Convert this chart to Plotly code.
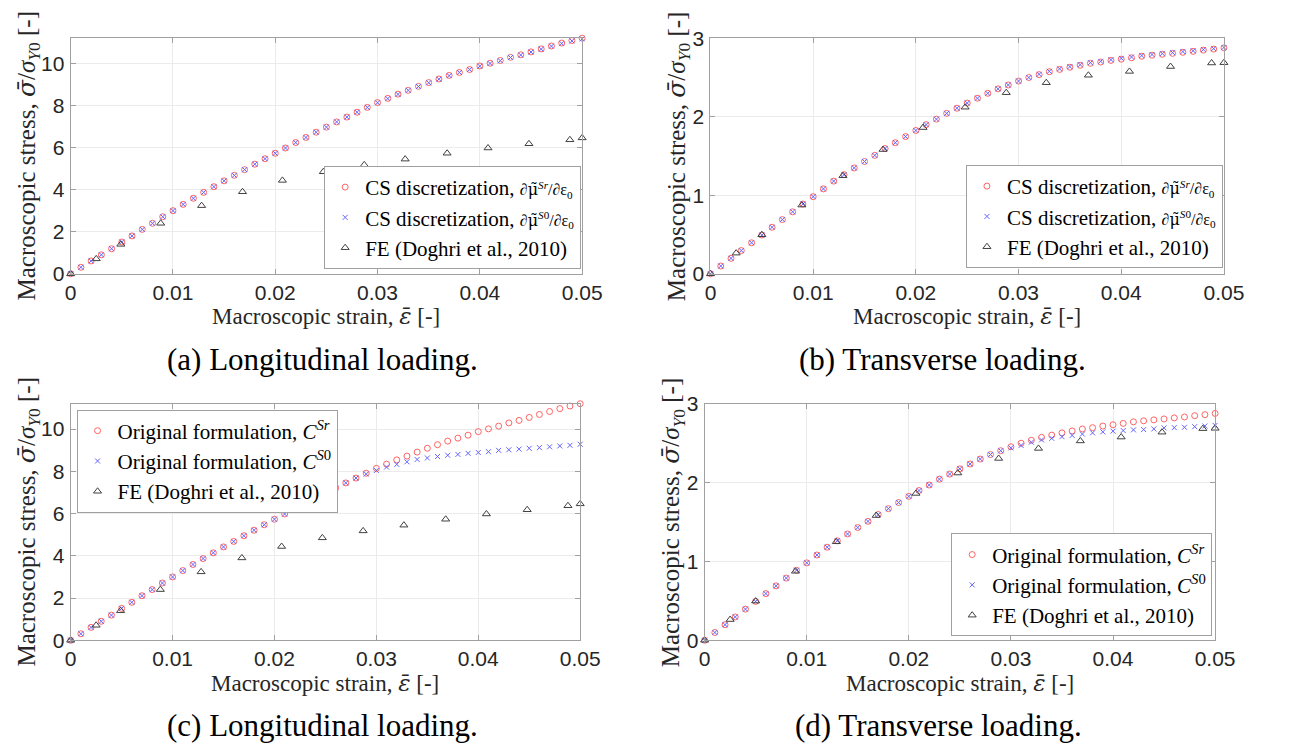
import plotly.graph_objects as go

W, H = 1289, 756

# ---------------- data ----------------
strain = [0.000, 0.001, 0.002, 0.003, 0.004, 0.005, 0.006, 0.007, 0.008, 0.009,
          0.010, 0.011, 0.012, 0.013, 0.014, 0.015, 0.016, 0.017, 0.018, 0.019,
          0.020, 0.021, 0.022, 0.023, 0.024, 0.025, 0.026, 0.027, 0.028, 0.029,
          0.030, 0.031, 0.032, 0.033, 0.034, 0.035, 0.036, 0.037, 0.038, 0.039,
          0.040, 0.041, 0.042, 0.043, 0.044, 0.045, 0.046, 0.047, 0.048, 0.049, 0.050]

long_Sr = [0, 0.31, 0.61, 0.90, 1.19, 1.51, 1.80, 2.11, 2.40, 2.71,
           3.00, 3.30, 3.59, 3.87, 4.14, 4.42, 4.68, 4.95, 5.21, 5.47,
           5.73, 5.98, 6.24, 6.48, 6.73, 6.97, 7.22, 7.45, 7.68, 7.91,
           8.14, 8.34, 8.54, 8.72, 8.91, 9.09, 9.26, 9.43, 9.57, 9.71,
           9.88, 10.01, 10.14, 10.29, 10.41, 10.55, 10.69, 10.83, 10.97, 11.09, 11.20]

long_cs_S0 = [0, 0.31, 0.61, 0.90, 1.19, 1.51, 1.80, 2.11, 2.40, 2.71,
              3.00, 3.30, 3.59, 3.87, 4.14, 4.42, 4.68, 4.95, 5.21, 5.47,
              5.73, 5.98, 6.24, 6.48, 6.73, 6.97, 7.22, 7.45, 7.68, 7.91,
              8.13, 8.33, 8.53, 8.72, 8.90, 9.08, 9.25, 9.42, 9.57, 9.71,
              9.87, 10.00, 10.13, 10.28, 10.40, 10.54, 10.68, 10.82, 10.95, 11.07, 11.17]

long_orig_S0 = [0, 0.31, 0.61, 0.90, 1.19, 1.51, 1.80, 2.11, 2.40, 2.71,
                3.00, 3.30, 3.59, 3.87, 4.14, 4.42, 4.68, 4.95, 5.21, 5.47,
                5.73, 5.98, 6.24, 6.48, 6.73, 6.97, 7.22, 7.45, 7.68, 7.87,
                8.04, 8.20, 8.33, 8.45, 8.56, 8.63, 8.70, 8.76, 8.80, 8.85,
                8.89, 8.93, 8.99, 9.02, 9.05, 9.09, 9.12, 9.16, 9.20, 9.23, 9.28]

fe_long_x = [0, 0.0025, 0.0049, 0.0088, 0.0128, 0.0168, 0.0207, 0.0247,
             0.0287, 0.0327, 0.0368, 0.0408, 0.0448, 0.0488, 0.05]
fe_long_y = [0, 0.71, 1.40, 2.40, 3.24, 3.90, 4.44, 4.85,
             5.18, 5.45, 5.73, 5.98, 6.18, 6.37, 6.46]

trans_Sr = [0, 0.099, 0.197, 0.296, 0.395, 0.493, 0.592, 0.690, 0.789, 0.888,
            0.982, 1.081, 1.180, 1.262, 1.348, 1.430, 1.508, 1.595, 1.669, 1.747,
            1.825, 1.899, 1.969, 2.043, 2.108, 2.174, 2.236, 2.298, 2.355, 2.404,
            2.454, 2.499, 2.536, 2.573, 2.602, 2.630, 2.655, 2.680, 2.696, 2.717,
            2.733, 2.750, 2.770, 2.783, 2.795, 2.807, 2.820, 2.832, 2.848, 2.861, 2.877]

trans_cs_S0 = [0, 0.099, 0.197, 0.296, 0.395, 0.493, 0.592, 0.690, 0.789, 0.888,
               0.982, 1.081, 1.180, 1.262, 1.348, 1.430, 1.508, 1.595, 1.669, 1.747,
               1.825, 1.899, 1.969, 2.043, 2.108, 2.174, 2.236, 2.298, 2.355, 2.404,
               2.454, 2.499, 2.540, 2.578, 2.610, 2.638, 2.663, 2.688, 2.705, 2.726,
               2.743, 2.760, 2.779, 2.792, 2.804, 2.816, 2.829, 2.840, 2.855, 2.867, 2.882]

trans_orig_S0 = [0, 0.099, 0.197, 0.296, 0.395, 0.493, 0.592, 0.690, 0.789, 0.888,
                 0.982, 1.081, 1.180, 1.262, 1.348, 1.430, 1.508, 1.595, 1.669, 1.747,
                 1.825, 1.899, 1.969, 2.043, 2.108, 2.174, 2.236, 2.298, 2.355, 2.404,
                 2.440, 2.471, 2.512, 2.541, 2.561, 2.582, 2.598, 2.615, 2.631, 2.643,
                 2.652, 2.660, 2.668, 2.672, 2.680, 2.693, 2.697, 2.701, 2.709, 2.717, 2.725]

fe_trans_x = [0, 0.0025, 0.0050, 0.0089, 0.0129, 0.0168, 0.0207, 0.0248,
              0.0288, 0.0327, 0.0368, 0.0408, 0.0448, 0.0488, 0.05]
fe_trans_y = [0, 0.263, 0.497, 0.875, 1.249, 1.582, 1.862, 2.121,
              2.306, 2.433, 2.528, 2.577, 2.639, 2.684, 2.688]

x_ticks = [0, 0.01, 0.02, 0.03, 0.04, 0.05]
x_ticklabels = ["0", "0.01", "0.02", "0.03", "0.04", "0.05"]
y_ticks_long = [0, 2, 4, 6, 8, 10]
y_ticks_trans = [0, 1, 2, 3]

DJ = "font-family:'DejaVu Serif'"
frac_sr = ("<span style=\"font-size:16px\">∂<span style=\"" + DJ + "\">μ̃</span>"
           "<sup><i>Sr</i></sup>/∂ε<sub>0</sub></span>")
frac_s0 = ("<span style=\"font-size:16px\">∂<span style=\"" + DJ + "\">μ̃</span>"
           "<sup><i>S</i>0</sup>/∂ε<sub>0</sub></span>")
cs_names = ["CS discretization, " + frac_sr,
            "CS discretization, " + frac_s0,
            "FE (Doghri et al., 2010)"]
orig_names = ["Original formulation, <i>C</i><sup><i>Sr</i></sup>",
              "Original formulation, <i>C</i><sup><i>S</i>0</sup>",
              "FE (Doghri et al., 2010)"]
captions = ["(a) Longitudinal loading.", "(b) Transverse loading.",
            "(c) Longitudinal loading.", "(d) Transverse loading."]
xtitle = "Macroscopic strain, <span style=\"" + DJ + "\"><i>ε̄</i></span> [-]"
ytitle = ("Macroscopic stress, <span style=\"" + DJ + "\"><i>σ̄</i></span>/<i>σ</i>"
          "<sub><i>Y</i>0</sub> [-]")

# ---------------- layout geometry (pixels) ----------------
# (left, right, top, bottom)
boxes = [(66, 588, 27, 270), (719, 1243, 27, 270),
         (66, 586, 404, 648), (713, 1234, 404, 648)]
ytitle_off = [44, 33, 44, 33]
caption_cx = [323, 956, 323, 952]

SERIF = "Liberation Serif"
SANS = "Liberation Sans"

red = "#ff6464"
blue = "#6464ff"
gray = "#404040"

fig = go.Figure()

panels = [
    (strain, long_Sr, strain, long_cs_S0, fe_long_x, fe_long_y, cs_names),
    (strain, trans_Sr, strain, trans_cs_S0, fe_trans_x, fe_trans_y, cs_names),
    (strain, long_Sr, strain, long_orig_S0, fe_long_x, fe_long_y, orig_names),
    (strain, trans_Sr, strain, trans_orig_S0, fe_trans_x, fe_trans_y, orig_names),
]

for i, (xs, ys, x0, y0, xf, yf, names) in enumerate(panels):
    n = "" if i == 0 else str(i + 1)
    leg = "legend" if i == 0 else "legend" + str(i + 1)
    fig.add_trace(go.Scatter(x=xs, y=ys, mode="markers", name=names[0],
                             xaxis="x" + n, yaxis="y" + n, legend=leg, cliponaxis=False,
                             marker=dict(symbol="circle-open", size=6, color=red,
                                         line=dict(width=1, color=red))))
    fig.add_trace(go.Scatter(x=x0, y=y0, mode="markers", name=names[1],
                             xaxis="x" + n, yaxis="y" + n, legend=leg, cliponaxis=False,
                             marker=dict(symbol="x-thin-open", size=5, color=blue,
                                         line=dict(width=1, color=blue))))
    fig.add_trace(go.Scatter(x=xf, y=yf, mode="markers", name=names[2],
                             xaxis="x" + n, yaxis="y" + n, legend=leg, cliponaxis=False,
                             marker=dict(symbol="triangle-up-open", size=7, color=gray,
                                         line=dict(width=1, color=gray))))

axis_common = dict(showline=True, linecolor="#a0a0a0", linewidth=1, mirror="ticks",
                   ticks="inside", ticklen=5, tickcolor="#a0a0a0",
                   showgrid=True, gridcolor="#ebebeb", gridwidth=1, zeroline=False,
                   tickfont=dict(family=SANS, size=21, color="#262626"))

layout = dict(width=W, height=H, margin=dict(l=0, r=0, t=0, b=0),
              paper_bgcolor="white", plot_bgcolor="white", showlegend=True)

yranges = [[0, 11.2], [0, 3], [0, 11.2], [0, 3]]
yticks = [y_ticks_long, y_ticks_trans, y_ticks_long, y_ticks_trans]

annotations = []
for i, (l, r, t, b) in enumerate(boxes):
    n = "" if i == 0 else str(i + 1)
    layout["xaxis" + n] = dict(axis_common, domain=[l / W, r / W], anchor="y" + n,
                               range=[0, 0.05], tickvals=x_ticks, ticktext=x_ticklabels,
                               ticklabelstandoff=0)
    layout["yaxis" + n] = dict(axis_common, domain=[1 - b / H, 1 - t / H], anchor="x" + n,
                               range=yranges[i], tickvals=yticks[i], ticklabelstandoff=1)
    cx = (l + r) / 2
    annotations.append(dict(text=xtitle, x=cx / W, y=1 - (b + 44) / H, xref="paper", yref="paper",
                            xanchor="center", yanchor="middle", showarrow=False,
                            font=dict(family=SERIF, size=23, color="#262626")))
    annotations.append(dict(text=ytitle, x=(l - ytitle_off[i]) / W, y=1 - ((t + b) / 2) / H,
                            xref="paper", yref="paper", textangle=-90,
                            xanchor="center", yanchor="middle", showarrow=False,
                            font=dict(family=SERIF, size=25, color="#262626")))
    annotations.append(dict(text=captions[i], x=caption_cx[i] / W, y=1 - (b + 88) / H,
                            xref="paper", yref="paper", xanchor="center", yanchor="middle",
                            showarrow=False, font=dict(family=SERIF, size=31, color="black")))

legend_common = dict(bgcolor="white", bordercolor="#a0a0a0", borderwidth=1,
                     font=dict(family=SERIF, size=21, color="black"),
                     itemsizing="trace", tracegroupgap=0)
layout["legend"] = dict(legend_common, x=587 / W, y=1 - 265 / H, xanchor="right", yanchor="bottom")
layout["legend2"] = dict(legend_common, x=1242 / W, y=1 - 264 / H, xanchor="right", yanchor="bottom")
layout["legend3"] = dict(legend_common, x=72 / W, y=1 - 410 / H, xanchor="left", yanchor="top")
layout["legend4"] = dict(legend_common, x=1231 / W, y=1 - 644 / H, xanchor="right", yanchor="bottom")
layout["annotations"] = annotations

fig.update_layout(**layout)
fig.write_html("out.html")
